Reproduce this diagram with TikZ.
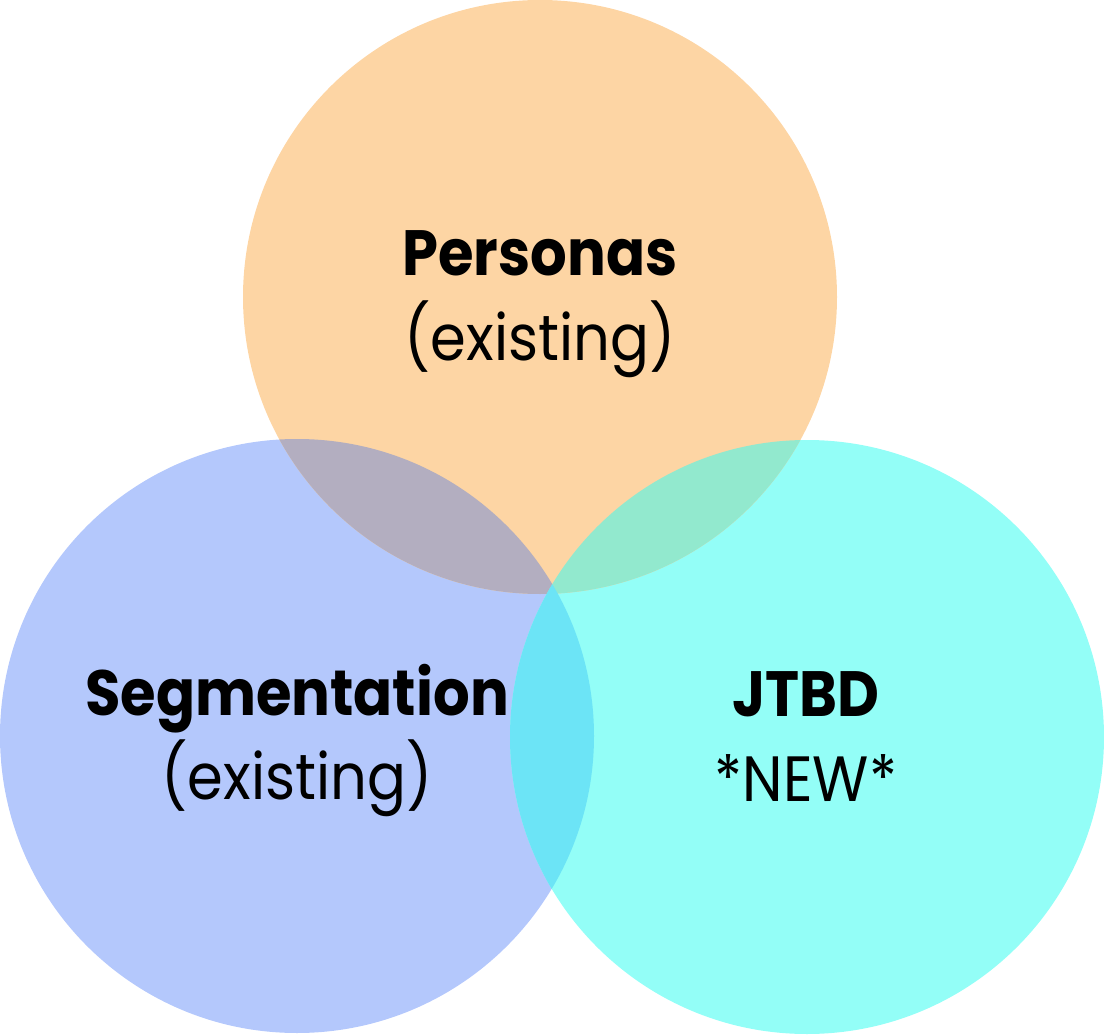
\documentclass[tikz,border=0pt]{standalone}
\usepackage{fontspec}
\setmainfont{Poppins}[FakeStretch=0.9]
\definecolor{corange}{RGB}{253,213,164}
\definecolor{cblue}{RGB}{180,200,252}
\definecolor{ccyan}{RGB}{147,254,247}
\definecolor{cgrey}{RGB}{179,174,192}
\definecolor{cgreen}{RGB}{146,233,206}
\definecolor{clens}{RGB}{108,228,246}
\begin{document}
\begin{tikzpicture}[x=1pt,y=-1pt,
  title/.style={anchor=base,font=\fontsize{64}{72}\selectfont\bfseries,inner sep=0pt},
  sub/.style={anchor=base,font=\fontsize{64}{72}\selectfont,inner sep=0pt}]
\useasboundingbox (0,0) rectangle (1104,1035);
\def\topc{(540,297) circle[radius=297]}
\def\leftc{(297,736) circle[radius=297]}
\def\rightc{(807,737) circle[radius=297]}
\fill[cblue] \leftc;
\fill[ccyan] \rightc;
\fill[corange] \topc;
\begin{scope}\clip \topc; \fill[cgrey] \leftc; \end{scope}
\begin{scope}\clip \topc; \fill[cgreen] \rightc; \end{scope}
\begin{scope}\clip \leftc; \fill[clens] \rightc; \end{scope}
\node[title] (personas) at (540,276) {Personas};
\node[sub] (pex) at (540,360) {(existing)};
\node[title] (seg) at (297,715) {Segmentation};
\node[sub] (sex) at (297,799) {(existing)};
\node[title] (jtbd) at (806,716) {JTBD};
\node[sub] (new) at (806,801) {*NEW*};
\end{tikzpicture}
\end{document}
